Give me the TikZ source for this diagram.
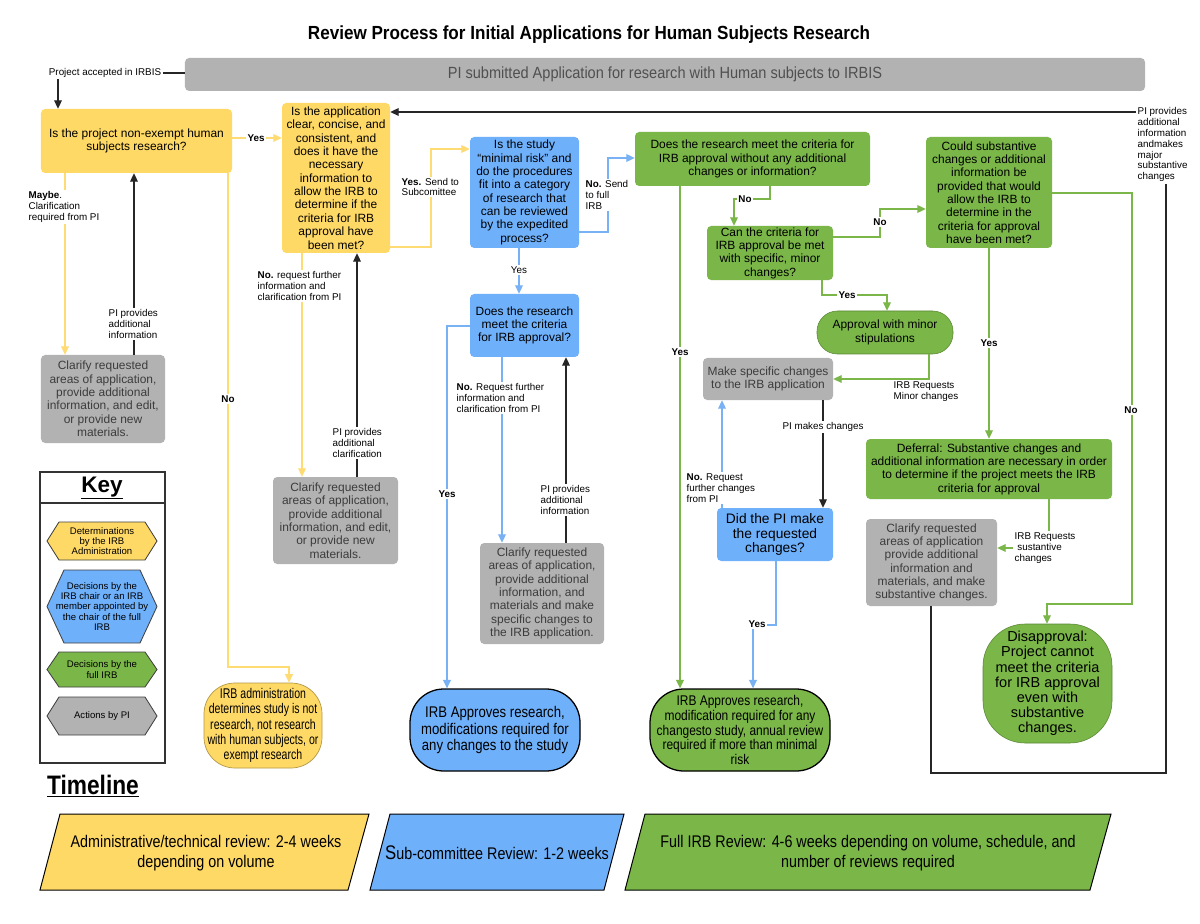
\documentclass[tikz,border=0pt]{standalone}
\usepackage{fontspec}
\setmainfont{Liberation Sans}
\newfontfamily\nnine[FakeStretch=0.9]{Liberation Sans}
\newfontfamily\neight[FakeStretch=0.85]{Liberation Sans}
\newfontfamily\nseven[FakeStretch=0.75]{Liberation Sans}
\usetikzlibrary{arrows.meta}
\definecolor{ylw}{RGB}{255,217,102}
\definecolor{ylwl}{RGB}{255,220,115}
\definecolor{blu}{RGB}{111,176,250}
\definecolor{blul}{RGB}{120,178,245}
\definecolor{grn}{RGB}{122,182,72}
\definecolor{gry}{RGB}{178,178,178}
\definecolor{gtxt}{RGB}{60,60,60}
\definecolor{bartxt}{RGB}{80,80,80}
\newcommand{\fs}[2]{\fontsize{#1}{#2}\selectfont}
\newcommand{\bx}[7]{%
  \pgfmathsetmacro\bxw{(#5-#3)*0.025}%
  \pgfmathsetmacro\bxh{(#6-#4)*0.025}%
  \node[#2, minimum width=\bxw cm, minimum height=\bxh cm] (#1) at ({(#3+#5)/2},{(#4+#6)/2}) {#7};}
\newcommand{\hexa}[6]{%
  \pgfmathsetmacro\hym{(#3+#4)/2}%
  \filldraw[fill=#2, draw=black!75, line width=0.6pt] (47,\hym) -- ({47+#5},#3) -- ({157-#5},#3) -- (157,\hym) -- ({157-#5},#4) -- ({47+#5},#4) -- cycle;
  \node[font=\fs{6.8}{7.4}, align=center, inner sep=0pt] (#1) at (102,\hym) {#6};}
\begin{document}
\begin{tikzpicture}[x=0.025cm, y=-0.025cm,
  box/.style={rounded corners=3pt, align=center, inner sep=1pt, font=\fs{8.5}{9.5}},
  ybox/.style={box, fill=ylw},
  bbox/.style={box, fill=blu},
  gbox/.style={box, fill=grn},
  pbox/.style={box, fill=gry, text=gtxt},
  term/.style={align=center, inner sep=1pt, draw=black, line width=0.9pt},
  lbl/.style={font=\fs{7}{7.7}, fill=white, inner sep=1pt, align=left},
  lblb/.style={font=\bfseries\fs{7}{7.7}, fill=white, inner sep=1pt},
  tip/.style={-{Triangle[length=6pt,width=5.5pt]}},
  yl/.style={draw=ylwl, line width=1pt},
  ya/.style={yl, tip},
  bl/.style={draw=blul, line width=1pt},
  ba/.style={bl, tip},
  gl/.style={draw=grn, line width=1pt},
  ga/.style={gl, tip},
  kl/.style={draw=black!85, line width=1pt},
  ka/.style={kl, tip}
]
\useasboundingbox (0,0) rectangle (1200,924);
\fill[white] (0,0) rectangle (1200,924);

% title
\node[font=\nnine\bfseries\fs{13.5}{15}] (title) at (589,35) {Review Process for Initial Applications for Human Subjects Research};

% boxes
\bx{bar}{pbox, text=bartxt, font=\nnine\fs{11.5}{13}}{185}{58}{1145}{91}{PI submitted Application for research with Human subjects to IRBIS}
\bx{A}{ybox}{41}{109}{232}{173}{Is the project non-exempt human\\subjects research?}
\bx{C}{pbox}{41}{355}{165}{443}{Clarify requested\\areas of application,\\provide additional\\information, and edit,\\or provide new\\materials.}
\bx{B}{ybox}{282}{103}{390}{253}{Is the application\\clear, concise, and\\consistent, and\\does it have the\\necessary\\information to\\allow the IRB to\\determine if the\\criteria for IRB\\approval have\\been met?}
\bx{E}{pbox}{273}{477}{398}{564}{Clarify requested\\areas of application,\\provide additional\\information, and edit,\\or provide new\\materials.}
\bx{D}{bbox}{470}{137}{579}{248}{Is the study\\``minimal risk'' and\\do the procedures\\fit into a category\\of research that\\can be reviewed\\by the expedited\\process?}
\bx{D2}{bbox}{470}{294}{579}{357}{Does the research\\meet the criteria\\for IRB approval?}
\bx{H}{pbox}{480}{543}{604}{644}{Clarify requested\\areas of application,\\provide additional\\information, and\\materials and make\\specific changes to\\the IRB application.}
\bx{F}{gbox}{635}{132}{870}{186}{Does the research meet the criteria for\\IRB approval without any additional\\changes or information?}
\bx{G1}{gbox}{707}{226}{833}{280}{Can the criteria for\\IRB approval be met\\with specific, minor\\changes?}
\bx{K}{gbox}{926}{137}{1052}{248}{Could substantive\\changes or additional\\information be\\provided that would\\allow the IRB to\\determine in the\\criteria for approval\\have been met?}
\bx{AP}{gbox, rounded corners=14.5pt, draw=grn!75!black, line width=0.4pt}{817}{311}{953}{354}{Approval with minor\\stipulations}
\bx{M}{pbox}{703}{358}{833}{400}{Make specific changes\\to the IRB application}
\bx{P}{bbox, font=\fs{9.8}{10.6}}{717}{508}{833}{561}{Did the PI make\\the requested\\changes?}
\bx{DF}{gbox}{866}{439}{1112}{499}{Deferral: Substantive changes and\\additional information are necessary in order\\to determine if the project meets the IRB\\criteria for approval}
\bx{G}{pbox}{866}{519}{997}{606}{Clarify requested\\areas of application\\provide additional\\information and\\materials, and make\\substantive changes.}
\bx{DIS}{gbox, rounded corners=30pt, draw=grn!75!black, line width=0.4pt, font=\fs{10.3}{10.8}}{983}{624}{1112}{743}{Disapproval:\\Project cannot\\meet the criteria\\for IRB approval\\even with\\substantive\\changes.}
\bx{T1}{term, fill=ylw, draw=ylw!70!black, line width=0.5pt, rounded corners=22pt, font=\nseven\fs{10}{10.9}}{204}{683}{322}{768}{IRB administration\\determines study is not\\research, not research\\with human subjects, or\\exempt research}
\bx{T2}{term, fill=blu, rounded corners=24pt, font=\neight\fs{11}{11.4}}{410}{689}{580}{771}{IRB Approves research,\\modifications required for\\any changes to the study}
\bx{T3}{term, fill=grn, rounded corners=24pt, font=\neight\fs{10}{10.6}}{650}{689}{830}{771}{IRB Approves research,\\modification required for any\\changesto study, annual review\\required if more than minimal\\risk}

% project accepted
\node[lbl, fill=none] (acc) at (105,73) {Project accepted in IRBIS};
\draw[kl] (acc.east) -- (bar.west |- acc.east);
\draw[ka] (58,0 |- acc.south) -- (58,0 |- A.north);

% A -> B
\draw[ya] (A.east |- 0,138) -- (B.west |- 0,138);
\node[lblb] at (256,138) {Yes};
% Maybe
\draw[ya] (65,0 |- A.south) -- (65,0 |- C.north);
\node[lbl, anchor=west] at (27,207) {\textbf{Maybe}.\\Clarification\\required from PI};
\draw[ka] (134,0 |- C.north) -- (134,0 |- A.south);
\node[lbl, anchor=west] at (107,324) {PI provides\\additional\\information};
% No -> T1
\draw[ya] (228,0 |- A.south) -- (228,667) -- (289,667) -- (289,0 |- T1.north);
\node[lblb] at (228,399) {No};

% B -> D
\draw[ya] (B.east |- 0,247) -- (431,247) -- (431,149) -- (D.west |- 0,149);
\node[lbl, anchor=west] at (400,187) {\textbf{Yes.} Send to\\Subcomittee};
% B -> E
\draw[ya] (302,0 |- B.south) -- (302,0 |- E.north);
\node[lbl, anchor=west] at (256,286) {\textbf{No.} request further\\information and\\clarification from PI};
\draw[ka] (357,0 |- E.north) -- (357,0 |- B.south);
\node[lbl, anchor=west] at (331,443) {PI provides\\additional\\clarification};

% D -> F
\draw[ba] (D.east |- 0,232) -- (608,232) -- (608,158) -- (F.west |- 0,158);
\node[lbl, anchor=west] at (584,195) {\textbf{No.} Send\\to full\\IRB};
% D -> D2
\draw[ba] (519,0 |- D.south) -- (519,0 |- D2.north);
\node[lbl] at (519,270) {Yes};
% D2 -> T2
\draw[ba] (D2.west |- 0,326) -- (447,326) -- (447,0 |- T2.north);
\node[lblb] at (447,494) {Yes};
% D2 -> H
\draw[ba] (502,0 |- D2.south) -- (502,0 |- H.north);
\node[lbl, anchor=west] at (455,398) {\textbf{No.} Request further\\information and\\clarification from PI};
\draw[ka] (566,0 |- H.north) -- (566,0 |- D2.south);
\node[lbl, anchor=west] at (539,500) {PI provides\\additional\\information};

% F -> T3
\draw[ga] (680,0 |- F.south) -- (680,0 |- T3.north);
\node[lblb] at (680,352) {Yes};
% F -> G1
\draw[ga] (770,0 |- F.south) -- (770,199) -- (734,199) -- (734,0 |- G1.north);
\node[lblb] at (745,199) {No};
% G1 -> K
\draw[ga] (G1.east |- 0,237) -- (880,237) -- (880,209) -- (K.west |- 0,209);
\node[lblb] at (880,222) {No};
% G1 -> AP
\draw[ga] (822,0 |- G1.south) -- (822,295) -- (887,295) -- (887,0 |- AP.north);
\node[lblb] at (847,295) {Yes};
% AP -> M
\draw[ga] (929,0 |- AP.south) -- (929,379) -- (M.east |- 0,379);
\node[lbl, anchor=west, fill=none] at (892,392) {IRB Requests\\Minor changes};
% M -> P
\draw[ka] (823,0 |- M.south) -- (823,0 |- P.north);
\node[lbl] at (823,427) {PI makes changes};
% P -> M
\draw[ba] (722,0 |- P.north) -- (722,0 |- M.south);
\node[lbl, anchor=west] at (685,488) {\textbf{No.} Request\\further changes\\from PI};
% P -> T3
\draw[ba] (776,0 |- P.south) -- (776,625) -- (753,625) -- (753,0 |- T3.north);
\node[lblb] at (757,624) {Yes};

% K -> DF
\draw[ga] (989,0 |- K.south) -- (989,0 |- DF.north);
\node[lblb] at (989,343) {Yes};
% K -> DIS
\draw[ga] (K.east |- 0,193) -- (1132,193) -- (1132,604) -- (1047,604) -- (1047,0 |- DIS.north);
\node[lblb] at (1131,410) {No};
% DF -> G
\draw[ga] (1049,0 |- DF.south) -- (1049,548) -- (G.east |- 0,548);
\node[lbl, anchor=west] at (1013,548) {IRB Requests\\\ sustantive\\changes};

% G -> loop -> B
\node[lbl, anchor=north west] (pil) at (1136,106) {PI provides\\additional\\information\\andmakes\\major\\substantive\\changes};
\draw[kl] (931,0 |- G.south) -- (931,773) -- (1166,773) -- (1166,0 |- pil.south);
\draw[ka] (pil.west |- 0,112) -- (B.east |- 0,112);

% key
\bx{keybox}{draw=black!80, line width=0.9pt}{40}{472}{165}{763}{}
\node[font=\bfseries\fs{16}{18}] (keyt) at (102,488) {\underline{Key}};
\draw[black!80, line width=0.8pt] (keybox.west |- 0,503) -- (keybox.east |- 0,503);
\hexa{k1}{ylw}{522}{560}{12}{Determinations\\by the IRB\\Administration}
\hexa{k2}{blu}{570}{643}{17}{Decisions by the\\IRB chair or an IRB\\member appointed by\\the chair of the full\\IRB}
\hexa{k3}{grn}{652}{687}{12}{Decisions by the\\full IRB}
\hexa{k4}{gry}{697}{735}{12}{Actions by PI}

% timeline
\node[font=\neight\bfseries\fs{19}{21}] (tl) at (93,786) {\underline{Timeline}};
\filldraw[fill=ylw, draw=black, line width=0.7pt] (40,890) -- (60,814) -- (369,814) -- (348,890) -- cycle;
\filldraw[fill=blu, draw=black, line width=0.7pt] (370,890) -- (390,814) -- (624,814) -- (604,890) -- cycle;
\filldraw[fill=grn, draw=black, line width=0.7pt] (625,890) -- (645,814) -- (1111,814) -- (1090,890) -- cycle;
\node[font=\neight\fs{12}{14}, align=center] (tl1) at (206,853) {Administrative/technical review: 2-4 weeks\\depending on volume};
\node[font=\neight\fs{12}{14}, align=center] (tl2) at (497,853) {{\fs{14}{14}S}ub-committee Review: 1-2 weeks};
\node[font=\neight\fs{12}{14}, align=center] (tl3) at (868,853) {Full IRB Review: 4-6 weeks depending on volume, schedule, and\\number of reviews required};
\end{tikzpicture}
\end{document}
